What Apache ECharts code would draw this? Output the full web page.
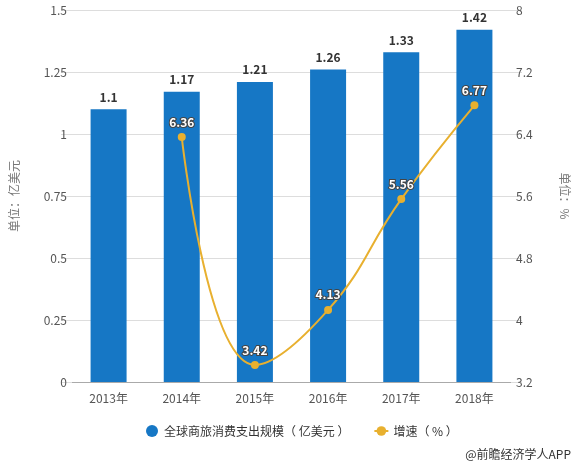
<!DOCTYPE html>
<html>
<head>
<meta charset="utf-8">
<script src="https://cdn.jsdelivr.net/npm/echarts@6/dist/echarts.min.js"></script>
<style>
  html, body { margin: 0; padding: 0; background: #fff; }
  #main { width: 579px; height: 466px; }
</style>
</head>
<body>
<div id="main"></div>
<script>
var years = ["2013年", "2014年", "2015年", "2016年", "2017年", "2018年"];
var spending = [1.1, 1.17, 1.21, 1.26, 1.33, 1.42];
var growth = ["-", 6.36, 3.42, 4.13, 5.56, 6.77];
var leftTicks = { min: 0, max: 1.5, interval: 0.25 };
var rightTicks = { min: 3.2, max: 8, interval: 0.8 };

var chart = echarts.init(document.getElementById("main"));
var font = "'Noto Sans CJK SC', 'Microsoft YaHei', sans-serif";

var option = {
  textStyle: { fontFamily: font },
  grid: { left: 64, right: 58, top: 10, bottom: 84 },
  legend: {
    bottom: 24,
    left: 141,
    itemGap: 24,
    itemWidth: 14,
    itemHeight: 12,
    textStyle: { color: "#333", fontSize: 12, fontFamily: font },
    data: [
      { name: "全球商旅消费支出规模（ 亿美元 ）", icon: "circle" },
      { name: "增速（ % ）" }
    ]
  },
  xAxis: {
    type: "category",
    data: years,
    axisLine: { lineStyle: { color: "#aaa" } },
    axisTick: { alignWithLabel: true, interval: 0, lineStyle: { color: "#aaa" } },
    axisLabel: { color: "#555", fontSize: 12, margin: 10 }
  },
  yAxis: [
    {
      type: "value",
      min: leftTicks.min,
      max: leftTicks.max,
      interval: leftTicks.interval,
      name: "单位：亿美元",
      nameLocation: "middle",
      nameGap: 52,
      nameTextStyle: { color: "#777", fontSize: 12 },
      axisLine: { show: false },
      axisTick: { show: true, length: 11, lineStyle: { color: "#ddd" } },
      splitLine: { lineStyle: { color: "#ddd" } },
      axisLabel: { color: "#555", fontSize: 12, margin: 5 }
    },
    {
      type: "value",
      position: "right",
      min: rightTicks.min,
      max: rightTicks.max,
      interval: rightTicks.interval,
      name: "单位：%",
      nameLocation: "middle",
      nameGap: 48,
      nameRotate: -90,
      nameTextStyle: { color: "#777", fontSize: 12 },
      axisLine: { show: false },
      axisTick: { show: true, length: 11, lineStyle: { color: "#ddd" } },
      splitLine: { show: false },
      axisLabel: {
        color: "#555", fontSize: 12, margin: 5,
        formatter: function (v) { return +v.toFixed(1); }
      }
    }
  ],
  series: [
    {
      name: "全球商旅消费支出规模（ 亿美元 ）",
      type: "bar",
      yAxisIndex: 0,
      barWidth: 36,
      data: spending,
      itemStyle: { color: "#1677c5" },
      label: {
        show: true,
        position: "top",
        distance: 6,
        color: "#333",
        fontWeight: "bold",
        fontSize: 12
      }
    },
    {
      name: "增速（ % ）",
      type: "line",
      yAxisIndex: 1,
      smooth: 0.45,
      data: growth,
      symbol: "circle",
      symbolSize: 8,
      itemStyle: { color: "#e8b02f" },
      lineStyle: { color: "#e8b02f", width: 2 },
      label: {
        show: true,
        position: "top",
        distance: 5,
        color: "#fff",
        fontWeight: "bold",
        fontSize: 12,
        textBorderColor: "#444",
        textBorderWidth: 2
      }
    }
  ],
  graphic: [
    {
      type: "text",
      right: 8,
      bottom: 6,
      style: { text: "@前瞻经济学人APP", fill: "#333", fontSize: 12, fontFamily: font }
    }
  ]
};
chart.setOption(option);
</script>
</body>
</html>
